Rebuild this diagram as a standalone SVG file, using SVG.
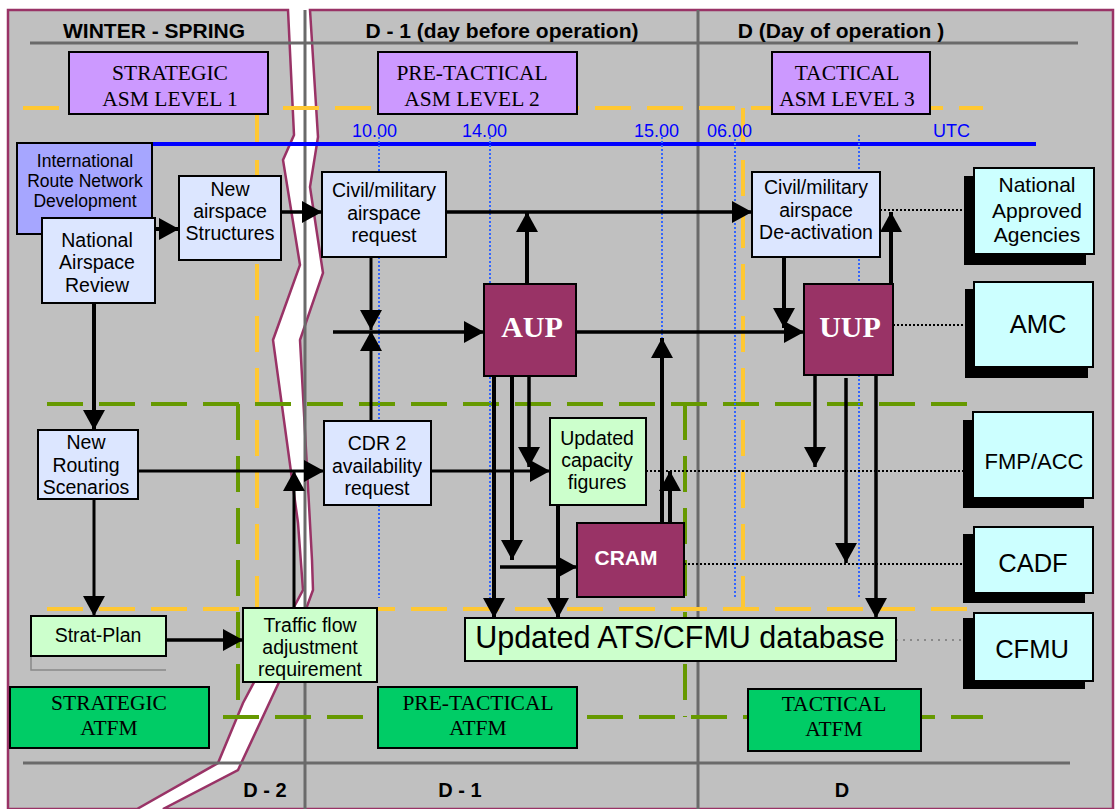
<svg xmlns="http://www.w3.org/2000/svg" width="1115" height="809" viewBox="0 0 1115 809">
<style>
.sans{font-family:"Liberation Sans",Arial,sans-serif}
.serif{font-family:"Liberation Serif","Times New Roman",serif}
.hdr{font-family:"Liberation Sans",Arial,sans-serif;font-weight:bold;font-size:21px;fill:#000;text-anchor:middle}
.ftr{font-family:"Liberation Sans",Arial,sans-serif;font-weight:bold;font-size:20px;fill:#000;text-anchor:middle}
.utc{font-family:"Liberation Sans",Arial,sans-serif;font-size:18px;fill:#0000FF}
.bt{font-family:"Liberation Sans",Arial,sans-serif;font-size:19.5px;fill:#000;text-anchor:middle}
.st{font-family:"Liberation Serif","Times New Roman",serif;font-size:21.5px;fill:#000;text-anchor:middle}
.box{stroke:#000;stroke-width:2}
.lb{fill:#DCE6FF}
.pu{fill:#CC99FF}
.gr{fill:#CCFFCC}
.dg{fill:#00CC66}
.cy{fill:#CCFFFF}
.mr{fill:#993366}
.sh{fill:#000}
.gl{stroke:#6A6A6A;stroke-width:3;fill:none}
.yd{stroke:#FFC833;stroke-width:4;fill:none;stroke-dasharray:36 16}
.gd{stroke:#669900;stroke-width:4;fill:none;stroke-dasharray:36 16}
.bd{stroke:#3366FF;stroke-width:2;fill:none;stroke-dasharray:2 2}
.c{stroke:#000;fill:none;marker-end:url(#ah)}
.cn{stroke:#000;fill:none}
.dt{stroke:#000;stroke-width:2;fill:none;stroke-dasharray:2 2}
</style>
<defs>
<marker id="ah" markerUnits="userSpaceOnUse" viewBox="0 0 20 22" markerWidth="20" markerHeight="22" refX="20" refY="11" orient="auto">
<path d="M0,0 L20,11 L0,22 Z" fill="#000"/>
</marker>
</defs>
<rect x="0" y="0" width="1115" height="809" fill="#FFFFFF"/>
<g id="panels">
<path d="M8,809 L8,10 L288,10 L294,135 L283,160 L300,265 L273,340 L298,523 L303,590 L243,703 L218,763 L137,809 Z" fill="#C0C0C0" stroke="#993366" stroke-width="2.5"/>
<path d="M310,10 L1113,10 L1113,809 L163,809 L238,770 L280,680 L313,590 L312,560 L300,340 L323,273 L310,187 L318,137 Z" fill="#C0C0C0" stroke="#993366" stroke-width="2.5"/>
</g>
<g id="grid">
<line class="gl" x1="305" y1="10" x2="305" y2="809"/>
<line class="gl" x1="698" y1="10" x2="698" y2="809"/>
<line class="gl" x1="30" y1="43" x2="1078" y2="43"/>
<line class="gl" x1="23" y1="763" x2="1070" y2="763"/>
<line class="yd" x1="23" y1="108" x2="983" y2="108"/>
<line class="yd" x1="47" y1="609" x2="983" y2="609"/>
<line class="yd" x1="257" y1="108" x2="257" y2="609"/>
<line class="yd" x1="743" y1="108" x2="743" y2="609"/>
<line class="gd" x1="47" y1="404" x2="983" y2="404"/>
<line class="gd" x1="223" y1="717" x2="983" y2="717"/>
<line class="gd" x1="238" y1="404" x2="238" y2="717"/>
<line class="gd" x1="685" y1="404" x2="685" y2="717"/>
<line x1="152" y1="144" x2="1036" y2="144" stroke="#0000FF" stroke-width="4"/>
<line class="bd" x1="379" y1="137" x2="379" y2="598"/>
<line class="bd" x1="490" y1="137" x2="490" y2="600"/>
<line class="bd" x1="662" y1="137" x2="662" y2="340"/>
<line class="bd" x1="735" y1="135" x2="735" y2="598"/>
<line class="bd" x1="859" y1="135" x2="859" y2="598"/>
</g>
<g id="labels">
<text class="hdr" x="154" y="38">WINTER - SPRING</text>
<text class="hdr" x="502" y="38">D - 1 (day before operation)</text>
<text class="hdr" x="841" y="38">D (Day of operation )</text>
<text class="ftr" x="265" y="797">D - 2</text>
<text class="ftr" x="460" y="797">D - 1</text>
<text class="ftr" x="842" y="797">D</text>
<text class="utc" x="352" y="137">10.00</text>
<text class="utc" x="462" y="137">14.00</text>
<text class="utc" x="634" y="137">15.00</text>
<text class="utc" x="707" y="137">06.00</text>
<text class="utc" x="933" y="137">UTC</text>
</g>
<g id="connectors">
<path class="c" stroke-width="4" d="M155,229 H179"/>
<path class="c" stroke-width="3.5" d="M281,212 H322"/>
<path class="c" stroke-width="3.5" d="M446,212 H752"/>
<path class="c" stroke-width="4" d="M527,284 V212"/>
<path class="c" stroke-width="3" d="M371,257 V330"/>
<path class="c" stroke-width="3" d="M371,421 V331"/>
<path class="c" stroke-width="3.5" d="M333,332 H484"/>
<path class="c" stroke-width="3.5" d="M576,332 H804"/>
<path class="c" stroke-width="4" d="M784,257 V328"/>
<path class="c" stroke-width="4" d="M891,284 V212"/>
<path class="c" stroke-width="4" d="M94,303 V430"/>
<path class="c" stroke-width="3" d="M94,499 V616"/>
<path class="c" stroke-width="3.5" d="M166,640 H243"/>
<path class="c" stroke-width="3" d="M138,471 H324"/>
<path class="c" stroke-width="3" d="M294,608 V471"/>
<path class="c" stroke-width="3" d="M431,471 H550"/>
<path class="c" stroke-width="3.5" d="M529,376 V467"/>
<path class="c" stroke-width="4" d="M512,376 V560"/>
<path class="c" stroke-width="4" d="M494,376 V618"/>
<path class="c" stroke-width="4" d="M558,505 V618"/>
<path class="c" stroke-width="3.5" d="M500,567 H577"/>
<path class="c" stroke-width="4" d="M662,523 V338"/>
<path class="c" stroke-width="4" d="M670,523 V471"/>
<path class="c" stroke-width="3.5" d="M815,375 V467"/>
<path class="c" stroke-width="3.5" d="M846,378 V563"/>
<path class="c" stroke-width="3.5" d="M876,375 V618"/>
<path class="dt" d="M880,210 H965"/>
<path class="dt" d="M893,325 H966"/>
<path class="dt" d="M646,471 H964"/>
<path class="dt" d="M684,564 H964"/>
<path d="M896,640 H964" stroke="#777" stroke-width="1.5" stroke-dasharray="2 5" fill="none"/>
<path d="M31,656 V670 H166" stroke="#888" stroke-width="1.5" fill="none"/>
</g>
<g id="strategic-asm">
<rect class="box pu" x="69" y="52" width="199" height="62"/>
<text class="st" x="170" y="80">STRATEGIC</text>
<text class="st" x="170" y="106">ASM LEVEL 1</text>
</g>
<g id="pretactical-asm">
<rect class="box pu" x="378" y="52" width="199" height="62"/>
<text class="st" x="472" y="80">PRE-TACTICAL</text>
<text class="st" x="472" y="106">ASM LEVEL 2</text>
</g>
<g id="tactical-asm">
<rect class="box pu" x="772" y="52" width="158" height="62"/>
<text class="st" x="847" y="80">TACTICAL</text>
<text class="st" x="847" y="106">ASM LEVEL 3</text>
</g>
<g id="intl-route">
<rect class="box" fill="#A6A6FF" x="17" y="143" width="135" height="91"/>
<text class="sans" font-size="17.5" text-anchor="middle" x="85" y="167">International</text>
<text class="sans" font-size="17.5" text-anchor="middle" x="85" y="187">Route Network</text>
<text class="sans" font-size="17.5" text-anchor="middle" x="85" y="207">Development</text>
</g>
<g id="national-airspace-review">
<rect class="box lb" x="42" y="218" width="113" height="85"/>
<text class="bt" x="97" y="247">National</text>
<text class="bt" x="97" y="269">Airspace</text>
<text class="bt" x="97" y="292">Review</text>
</g>
<g id="new-airspace">
<rect class="box lb" x="179" y="176" width="102" height="84"/>
<text class="bt" x="230" y="196">New</text>
<text class="bt" x="230" y="218">airspace</text>
<text class="bt" x="230" y="240">Structures</text>
</g>
<g id="civil-request">
<rect class="box lb" x="322" y="172" width="124" height="85"/>
<text class="bt" x="384" y="197">Civil/military</text>
<text class="bt" x="384" y="220">airspace</text>
<text class="bt" x="384" y="242">request</text>
</g>
<g id="deactivation">
<rect class="box lb" x="752" y="172" width="128" height="85"/>
<text class="bt" x="816" y="194">Civil/military</text>
<text class="bt" x="816" y="217">airspace</text>
<text class="bt" x="816" y="239">De-activation</text>
</g>
<g id="aup">
<rect class="box mr" x="484" y="284" width="92" height="92"/>
<text class="serif" font-size="30" font-weight="bold" fill="#FFFFFF" text-anchor="middle" x="532" y="337">AUP</text>
</g>
<g id="uup">
<rect class="box mr" x="804" y="284" width="89" height="91"/>
<text class="serif" font-size="30" font-weight="bold" fill="#FFFFFF" text-anchor="middle" x="850" y="337">UUP</text>
</g>
<g id="cdr2">
<rect class="box lb" x="324" y="421" width="107" height="84"/>
<text class="bt" x="377" y="450">CDR 2</text>
<text class="bt" x="377" y="473">availability</text>
<text class="bt" x="377" y="495">request</text>
</g>
<g id="capacity">
<rect class="box gr" x="550" y="418" width="96" height="87"/>
<text class="bt" x="597" y="445">Updated</text>
<text class="bt" x="597" y="467">capacity</text>
<text class="bt" x="597" y="489">figures</text>
</g>
<g id="cram">
<rect class="box mr" x="577" y="523" width="107" height="74"/>
<text class="sans" font-size="21" font-weight="bold" fill="#FFFFFF" text-anchor="middle" x="626" y="565">CRAM</text>
</g>
<g id="new-routing">
<rect class="box lb" x="38" y="430" width="100" height="69"/>
<text class="bt" x="86" y="449">New</text>
<text class="bt" x="86" y="472">Routing</text>
<text class="bt" x="86" y="494">Scenarios</text>
</g>
<g id="strat-plan">
<rect class="box gr" x="31" y="616" width="135" height="40"/>
<text class="bt" x="98" y="642">Strat-Plan</text>
</g>
<g id="traffic-flow">
<rect class="box gr" x="243" y="608" width="134" height="74"/>
<text class="bt" x="310" y="632">Traffic flow</text>
<text class="bt" x="310" y="654">adjustment</text>
<text class="bt" x="310" y="676">requirement</text>
</g>
<g id="ats-db">
<rect class="box gr" x="465" y="618" width="431" height="43"/>
<text class="sans" font-size="30.5" text-anchor="middle" x="680" y="648">Updated ATS/CFMU database</text>
</g>
<g id="strategic-atfm">
<rect class="box dg" x="10" y="687" width="199" height="61"/>
<text class="st" x="109" y="710">STRATEGIC</text>
<text class="st" x="109" y="735">ATFM</text>
</g>
<g id="pretactical-atfm">
<rect class="box dg" x="378" y="687" width="199" height="61"/>
<text class="st" x="478" y="710">PRE-TACTICAL</text>
<text class="st" x="478" y="735">ATFM</text>
</g>
<g id="tactical-atfm">
<rect class="box dg" x="748" y="689" width="173" height="62"/>
<text class="st" x="834" y="711">TACTICAL</text>
<text class="st" x="834" y="736">ATFM</text>
</g>
<g id="agencies">
<rect class="box sh" x="965" y="177" width="120" height="87"/>
<rect class="box cy" x="974" y="168" width="120" height="86"/>
<text class="sans" font-size="21" text-anchor="middle" x="1037" y="192">National</text>
<text class="sans" font-size="21" text-anchor="middle" x="1037" y="218">Approved</text>
<text class="sans" font-size="21" text-anchor="middle" x="1037" y="242">Agencies</text>
</g>
<g id="amc">
<rect class="box sh" x="966" y="290" width="121" height="87"/>
<rect class="box cy" x="974" y="282" width="119" height="85"/>
<text class="sans" font-size="25.5" text-anchor="middle" x="1038" y="333">AMC</text>
</g>
<g id="fmp-acc">
<rect class="box sh" x="964" y="421" width="119" height="86"/>
<rect class="box cy" x="973" y="412" width="120" height="86"/>
<text class="sans" font-size="22" text-anchor="middle" x="1034" y="469">FMP/ACC</text>
</g>
<g id="cadf">
<rect class="box sh" x="964" y="535" width="120" height="67"/>
<rect class="box cy" x="974" y="527" width="119" height="66"/>
<text class="sans" font-size="25.5" text-anchor="middle" x="1033" y="572">CADF</text>
</g>
<g id="cfmu">
<rect class="box sh" x="964" y="619" width="120" height="69"/>
<rect class="box cy" x="974" y="613" width="119" height="68"/>
<text class="sans" font-size="25.5" text-anchor="middle" x="1032" y="658">CFMU</text>
</g>
</svg>
